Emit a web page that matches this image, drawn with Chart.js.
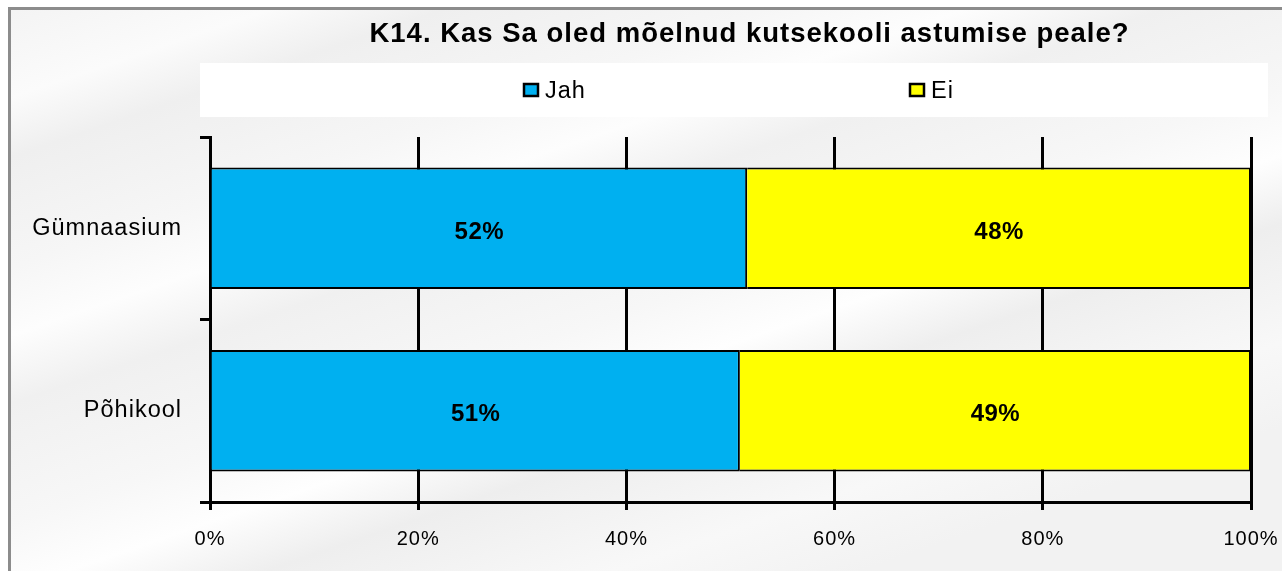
<!DOCTYPE html>
<html>
<head>
<meta charset="utf-8">
<script src="https://cdn.jsdelivr.net/npm/chart.js@4/dist/chart.umd.min.js"></script>
<style>
  html, body { margin: 0; padding: 0; background: #fff; }
  canvas { display: block; }
</style>
</head>
<body>
<canvas id="chart" width="1282" height="571"></canvas>
<script>
const categories = ['Gümnaasium', 'Põhikool'];
const seriesNames = ['Jah', 'Ei'];
const jahValues = [51.6, 50.9];
const eiValues = [48.4, 49.1];
const seriesColors = ['#00B0F0', '#FFFF00'];
const xTickValues = [0, 20, 40, 60, 80, 100];
const chartTitle = 'K14. Kas Sa oled mõelnud kutsekooli astumise peale?';

const FONT = "'Liberation Sans', Arial, sans-serif";
const SPACING = '1px';
const titleShift = 19;

// grey textured backdrop, frame and the white legend strip
const backgroundPlugin = {
  id: 'background',
  afterInit(chart) {
    // title sits a bit right of the plot centre in the original
    const tb = chart.titleBlock;
    const draw = tb.draw.bind(tb);
    tb.draw = (area) => {
      chart.ctx.save();
      chart.ctx.translate(titleShift, 0);
      draw(area);
      chart.ctx.restore();
    };
  },
  beforeDraw(chart) {
    const ctx = chart.ctx;
    const ca = chart.chartArea;
    const w = chart.width, h = chart.height;
    ctx.save();
    ctx.fillStyle = '#ffffff';
    ctx.fillRect(0, 0, w, h);

    const g = ctx.createLinearGradient(400, -120, 660, 640);
    g.addColorStop(0, '#f4f4f4');
    g.addColorStop(0.1, '#fbfbfb');
    g.addColorStop(0.17, '#efefef');
    g.addColorStop(0.3, '#f6f6f6');
    g.addColorStop(0.38, '#fdfdfd');
    g.addColorStop(0.46, '#f0f0f0');
    g.addColorStop(0.6, '#f7f7f7');
    g.addColorStop(0.68, '#fefefe');
    g.addColorStop(0.76, '#eeeeee');
    g.addColorStop(0.9, '#f8f8f8');
    g.addColorStop(1, '#f2f2f2');
    ctx.fillStyle = g;
    ctx.fillRect(9, 8, w, h);

    ctx.strokeStyle = '#8c8c8c';
    ctx.lineWidth = 3;
    ctx.strokeRect(9.5, 8.5, w + 20, h + 20);

    // legend
    const left = ca.left - 10, right = ca.right + 17;
    ctx.fillStyle = '#ffffff';
    ctx.fillRect(left, 63, right - left, 54);
    const cx = (left + right) / 2;
    const firstX = cx - 210;
    const gap = 386;
    ctx.font = '23.5px ' + FONT;
    ctx.letterSpacing = SPACING;
    ctx.textBaseline = 'middle';
    ctx.textAlign = 'left';
    seriesNames.forEach((name, i) => {
      const x = firstX + i * gap;
      ctx.fillStyle = seriesColors[i];
      ctx.fillRect(x, 84, 14, 12);
      ctx.strokeStyle = '#000';
      ctx.lineWidth = 2.5;
      ctx.strokeRect(x, 84, 14, 12);
      ctx.fillStyle = '#000';
      ctx.fillText(name, x + 21, 92);
    });
    ctx.restore();
    ctx.letterSpacing = SPACING;
  }
};

// percentages inside the bars
const valueLabelPlugin = {
  id: 'valueLabels',
  afterDatasetsDraw(chart) {
    const ctx = chart.ctx;
    ctx.save();
    ctx.letterSpacing = '0.5px';
    ctx.font = 'bold 24px ' + FONT;
    ctx.fillStyle = '#000';
    ctx.textAlign = 'center';
    ctx.textBaseline = 'middle';
    chart.data.datasets.forEach((ds, i) => {
      chart.getDatasetMeta(i).data.forEach((bar, j) => {
        const p = bar.getProps(['x', 'y', 'base'], true);
        ctx.fillText(Math.round(ds.data[j]) + '%', (p.x + p.base) / 2, p.y + 4);
      });
    });
    ctx.restore();
  }
};

new Chart(document.getElementById('chart'), {
  type: 'bar',
  data: {
    labels: categories,
    datasets: [
      { label: seriesNames[0], data: jahValues, backgroundColor: seriesColors[0], borderColor: '#000', borderWidth: 2 },
      { label: seriesNames[1], data: eiValues, backgroundColor: seriesColors[1], borderColor: '#000', borderWidth: 2 }
    ]
  },
  options: {
    indexAxis: 'y',
    responsive: false,
    animation: false,
    layout: { padding: { top: 0, right: 31, bottom: 3, left: 0 } },
    datasets: { bar: { categoryPercentage: 1, barPercentage: 0.665 } },
    scales: {
      x: {
        stacked: true,
        min: 0,
        max: 100,
        afterBuildTicks: s => { s.ticks = xTickValues.map(v => ({ value: v })); },
        afterFit: s => { s.paddingLeft = 0; s.paddingRight = 0; },
        ticks: { callback: v => v + '%', color: '#000', font: { family: FONT, size: 20 }, padding: 17 },
        grid: { color: '#000', lineWidth: 3, tickLength: 8 },
        border: { color: '#000', width: 3 }
      },
      y: {
        stacked: true,
        afterFit: s => { s.width = 210; },
        ticks: { color: '#000', font: { family: FONT, size: 23.5 }, padding: 18 },
        grid: { color: '#000', lineWidth: 3, tickLength: 10, drawOnChartArea: false, offset: true },
        border: { color: '#000', width: 3 }
      }
    },
    plugins: {
      legend: { display: false },
      tooltip: { enabled: false },
      title: {
        display: true,
        text: chartTitle,
        fullSize: false,
        color: '#000',
        font: { family: FONT, size: 27.5, weight: 'bold' },
        padding: { top: 18, bottom: 86 }
      }
    }
  },
  plugins: [backgroundPlugin, valueLabelPlugin]
});
</script>
</body>
</html>
